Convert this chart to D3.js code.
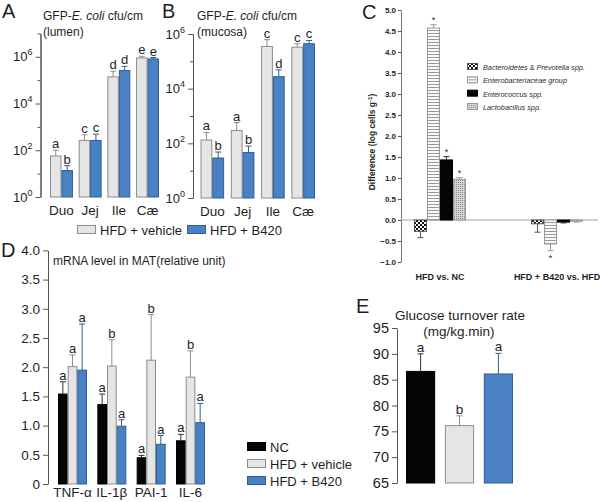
<!DOCTYPE html>
<html>
<head>
<meta charset="utf-8">
<script src="https://cdn.jsdelivr.net/npm/d3@7"></script>
<style>
  body { margin: 0; background: #fff; }
  svg { display: block; font-family: 'Liberation Sans', Arial, sans-serif; }
</style>
</head>
<body>
<svg id="chart" width="600" height="502"></svg>
<script>
'use strict'

// ---- data ----
var gutSites = ['Duo', 'Jej', 'Ile', 'Cæ']
var abGroups = ['HFD + vehicle', 'HFD + B420']

// panel A, lumen (cfu/cm), value and top of error bar
var lumenVehicle = [57, 263, 1.38e5, 8.9e5]
var lumenVehicleErr = [100, 457, 2.4e5, 1.05e6]
var lumenB420 = [13.5, 263, 2.57e5, 8.1e5]
var lumenB420Err = [22, 490, 3.9e5, 9.3e5]
var lumenVehicleLetters = ['a', 'c', 'd', 'e']
var lumenB420Letters = ['b', 'c', 'd', 'e']

// panel B, mucosa
var mucosaVehicle = [132, 295, 3.5e5, 3.3e5]
var mucosaVehicleErr = [250, 575, 6.2e5, 4.4e5]
var mucosaB420 = [29, 46, 2.75e4, 4.4e5]
var mucosaB420Err = [48, 79, 4.9e4, 5.8e5]
var mucosaVehicleLetters = ['a', 'a', 'c', 'c']
var mucosaB420Letters = ['b', 'b', 'd', 'c']

// panel C, difference (log cells/g)
var comparisons = ['HFD vs. NC', 'HFD + B420 vs. HFD']
var taxa = ['Bacteroidetes', 'Enterobacteriaceae', 'Enterococcus', 'Lactobacillus']
var diffNC = [-0.27, 4.57, 1.43, 0.97]
var diffNCErr = [-0.42, 4.65, 1.51, 1.01]
var diffB420 = [-0.09, -0.57, -0.05, -0.03]
var diffB420Err = [-0.29, -0.73, -0.07, -0.05]
var starsNC = ['', '*', '*', '*']
var starsB420 = ['', '*', '', '']

// panel D, mRNA in MAT
var genes = ['TNF-α', 'IL-1β', 'PAI-1', 'IL-6']
var dGroups = ['NC', 'HFD + vehicle', 'HFD + B420']
var mrnaNC = [1.54, 1.36, 0.45, 0.74]
var mrnaNCErr = [1.75, 1.54, 0.49, 0.85]
var mrnaVehicle = [2.01, 2.02, 2.12, 1.83]
var mrnaVehicleErr = [2.21, 2.47, 2.9, 2.28]
var mrnaB420 = [1.95, 0.99, 0.68, 1.05]
var mrnaB420Err = [2.74, 1.10, 0.83, 1.38]
var mrnaNCLetters = ['a', 'a', 'a', 'a']
var mrnaVehicleLetters = ['a', 'b', 'b', 'b']
var mrnaB420Letters = ['a', 'a', 'a', 'a']

// panel E, glucose turnover
var glucose = [86.6, 76.1, 86.1]
var glucoseErr = [90.0, 78.0, 90.1]
var glucoseLetters = ['a', 'b', 'a']

var fills = { 'NC': '#050505', 'HFD + vehicle': '#e5e5e5', 'HFD + B420': '#4a80c4' }
var strokes = { 'NC': '#000', 'HFD + vehicle': '#8c8c8c', 'HFD + B420': '#2f5e94' }
var ink = '#1e1e1e'
var axisColor = '#555'

var svg = d3.select('#chart')
svg.append('rect').attr('width', 600).attr('height', 502).attr('fill', '#fff')

function styleAxis (g, size) {
  g.select('.domain').attr('stroke', axisColor)
  g.selectAll('.tick line').attr('stroke', axisColor)
  g.selectAll('.tick text').attr('fill', ink).attr('font-size', size).attr('font-family', null)
}

function panelLabel (t, x, y) {
  svg.append('text').attr('x', x).attr('y', y).attr('font-size', 20).attr('fill', ink).text(t)
}

// one bar, its error whisker and the letter over it
function barWithErr (g, x0, w, yScale, base, v, e, fill, stroke, label, fs) {
  var yv = yScale(v)
  var yb = yScale(base)
  var errColor = stroke === '#000' ? '#333' : stroke
  g.append('rect')
    .attr('x', x0 + 0.5).attr('width', w - 1)
    .attr('y', Math.min(yv, yb)).attr('height', Math.abs(yb - yv))
    .attr('fill', fill).attr('stroke', stroke).attr('stroke-width', 1)
  var cx = x0 + w / 2
  var ye = yScale(e)
  g.append('line').attr('x1', cx).attr('x2', cx).attr('y1', yv).attr('y2', ye)
    .attr('stroke', errColor).attr('stroke-width', 1)
  g.append('line').attr('x1', cx - 3).attr('x2', cx + 3).attr('y1', ye).attr('y2', ye)
    .attr('stroke', errColor).attr('stroke-width', 1)
  if (label) {
    var down = e < base
    g.append('text').attr('x', cx).attr('y', down ? ye + fs + 1 : ye - 2)
      .attr('text-anchor', 'middle').attr('font-size', fs).attr('fill', ink).text(label)
  }
}

// ---- panels A and B ----
function cfuPanel (o) {
  var g = svg.append('g')
  var y = d3.scaleLog().domain([1, Math.pow(10, o.topExp)]).range([o.bottom, o.top])
  var x = d3.scaleBand().domain(gutSites).range(o.xRange).paddingInner(o.pad)
  var xs = d3.scaleBand().domain(abGroups).range([0, x.bandwidth()])

  var major = [0, 2, 4, 6].map(function (e) { return Math.pow(10, e) })
  var minor = d3.range(1, o.topExp + 1, 2).map(function (e) { return Math.pow(10, e) })

  var ax = g.append('g').attr('transform', 'translate(' + o.axisX + ',0)')
    .call(d3.axisLeft(y).tickValues(major).tickSize(5).tickSizeOuter(0).tickPadding(3).tickFormat(function () { return '' }))
  styleAxis(ax, 13)
  ax.selectAll('.tick text').each(function (d) {
    var t = d3.select(this)
    t.text('10')
    t.append('tspan').attr('dy', -6).attr('font-size', 9).text(Math.round(Math.log10(d)))
  })
  var mx = g.append('g').attr('transform', 'translate(' + o.axisX + ',0)')
    .call(d3.axisLeft(y).tickValues(minor).tickSize(3).tickSizeOuter(0).tickFormat(''))
  styleAxis(mx, 10)

  var series = [
    { key: abGroups[0], vals: o.vehicle, errs: o.vehicleErr, letters: o.vehicleLetters },
    { key: abGroups[1], vals: o.b420, errs: o.b420Err, letters: o.b420Letters }
  ]
  gutSites.forEach(function (site, i) {
    series.forEach(function (s) {
      barWithErr(g, x(site) + xs(s.key), xs.bandwidth(), y, 1, s.vals[i], s.errs[i],
        fills[s.key], strokes[s.key], s.letters[i], 13)
    })
    g.append('text').attr('x', x(site) + x.bandwidth() / 2).attr('y', o.bottom + 18)
      .attr('text-anchor', 'middle').attr('font-size', 13.5).attr('fill', ink).text(site)
  })

  var title = g.append('text').attr('x', o.titleX).attr('y', 20).attr('font-size', 12).attr('fill', ink)
  title.append('tspan').text('GFP-')
  title.append('tspan').attr('font-style', 'italic').text('E. coli')
  title.append('tspan').text(' cfu/cm')
  g.append('text').attr('x', o.titleX).attr('y', 36).attr('font-size', 12).attr('fill', ink).text(o.sub)
}

cfuPanel({
  topExp: 7, bottom: 197, top: 33.4, xRange: [50, 159], pad: 0.2, axisX: 40.5, titleX: 43,
  sub: '(lumen)',
  vehicle: lumenVehicle, vehicleErr: lumenVehicleErr, vehicleLetters: lumenVehicleLetters,
  b420: lumenB420, b420Err: lumenB420Err, b420Letters: lumenB420Letters
})
cfuPanel({
  topExp: 6, bottom: 198, top: 34, xRange: [200.5, 315], pad: 0.22, axisX: 193, titleX: 197,
  sub: '(mucosa)',
  vehicle: mucosaVehicle, vehicleErr: mucosaVehicleErr, vehicleLetters: mucosaVehicleLetters,
  b420: mucosaB420, b420Err: mucosaB420Err, b420Letters: mucosaB420Letters
})
panelLabel('A', 2, 18)
panelLabel('B', 162, 18)

// legend under A/B
var abLegend = svg.append('g').attr('transform', 'translate(77,225)')
var abLegendX = d3.scalePoint().domain(abGroups).range([0, 110])
abGroups.forEach(function (k) {
  var lg = abLegend.append('g').attr('transform', 'translate(' + abLegendX(k) + ',0)')
  lg.append('rect').attr('x', 0.5).attr('y', 0.5).attr('width', 18).attr('height', 8)
    .attr('fill', fills[k]).attr('stroke', strokes[k])
  lg.append('text').attr('x', 23).attr('y', 9.5).attr('font-size', 13).attr('fill', ink).text(k)
})

// ---- panel C ----
var defs = svg.append('defs')
var checker = defs.append('pattern').attr('id', 'pat-checker').attr('patternUnits', 'userSpaceOnUse')
  .attr('width', 4).attr('height', 4)
checker.append('rect').attr('width', 4).attr('height', 4).attr('fill', '#fff')
checker.append('rect').attr('width', 2).attr('height', 2).attr('fill', '#111')
checker.append('rect').attr('x', 2).attr('y', 2).attr('width', 2).attr('height', 2).attr('fill', '#111')
var stripes = defs.append('pattern').attr('id', 'pat-stripes').attr('patternUnits', 'userSpaceOnUse')
  .attr('width', 4).attr('height', 3)
stripes.append('rect').attr('width', 4).attr('height', 3).attr('fill', '#fafafa')
stripes.append('rect').attr('width', 4).attr('height', 1).attr('fill', '#9a9a9a')
var dots = defs.append('pattern').attr('id', 'pat-dots').attr('patternUnits', 'userSpaceOnUse')
  .attr('width', 2).attr('height', 2)
dots.append('rect').attr('width', 2).attr('height', 2).attr('fill', '#d6d6d6')
dots.append('rect').attr('width', 1).attr('height', 1).attr('fill', '#8a8a8a')

var taxaFill = ['url(#pat-checker)', 'url(#pat-stripes)', '#050505', 'url(#pat-dots)']
var taxaStroke = ['#555', '#999', '#000', '#999']

var cg = svg.append('g')
var yC = d3.scaleLinear().domain([-1, 5]).range([262, 10])
var xC = d3.scaleBand().domain(comparisons).range([414, 583]).paddingInner(0.556)
var xCs = d3.scaleBand().domain(taxa).range([0, xC.bandwidth()])

var cAxis = cg.append('g').attr('transform', 'translate(401,0)')
  .call(d3.axisLeft(yC).ticks(12).tickSize(3).tickSizeOuter(0).tickPadding(2).tickFormat(d3.format('.1f')))
styleAxis(cAxis, 8)
cAxis.selectAll('.tick text').attr('font-weight', 'bold')
cAxis.select('.domain').attr('stroke', '#777')

cg.append('line').attr('x1', 401).attr('x2', 598).attr('y1', yC(0)).attr('y2', yC(0))
  .attr('stroke', '#a0a0a0').attr('stroke-width', 1.2)

var cData = [
  { key: comparisons[0], vals: diffNC, errs: diffNCErr, stars: starsNC },
  { key: comparisons[1], vals: diffB420, errs: diffB420Err, stars: starsB420 }
]
cData.forEach(function (c) {
  taxa.forEach(function (t, i) {
    barWithErr(cg, xC(c.key) + xCs(t), xCs.bandwidth(), yC, 0, c.vals[i], c.errs[i],
      taxaFill[i], taxaStroke[i], c.stars[i], 9)
  })
  cg.append('text').attr('x', xC(c.key) + xC.bandwidth() / 2).attr('y', 280)
    .attr('text-anchor', 'middle').attr('font-size', 9).attr('font-weight', 'bold')
    .attr('fill', ink).text(c.key)
})

var cLabel = cg.append('text').attr('transform', 'translate(375,142) rotate(-90)')
  .attr('text-anchor', 'middle').attr('font-size', 8.5).attr('font-weight', 'bold').attr('fill', ink)
cLabel.append('tspan').text('Difference (log cells g')
cLabel.append('tspan').attr('dy', -3).attr('font-size', 6).text('-1')
cLabel.append('tspan').attr('dy', 3).text(')')

// legend C
var cLegendNames = [
  [['Bacteroidetes', true], [' & ', false], ['Prevotella', true], [' spp.', true]],
  [['Enterobacteriaceae', true], [' group', true]],
  [['Enterococcus', true], [' spp.', true]],
  [['Lactobacillus', true], [' spp.', true]]
]
var cLegendY = d3.scalePoint().domain(taxa).range([63, 103])
taxa.forEach(function (t, i) {
  var lg = cg.append('g').attr('transform', 'translate(467,' + cLegendY(t) + ')')
  lg.append('rect').attr('x', 0.5).attr('y', 0.5).attr('width', 10).attr('height', 6)
    .attr('fill', taxaFill[i]).attr('stroke', taxaStroke[i])
  var tx = lg.append('text').attr('x', 16).attr('y', 7).attr('font-size', 7.3).attr('fill', '#2a2a2a')
  cLegendNames[i].forEach(function (p) {
    tx.append('tspan').attr('font-style', p[1] ? 'italic' : null).text(p[0])
  })
})
panelLabel('C', 362, 19)

// ---- panel D ----
var dg = svg.append('g')
var yD = d3.scaleLinear().domain([0, 4]).range([484, 250.4])
var xD = d3.scaleBand().domain(genes).range([58, 205]).paddingInner(0.263)
var xDs = d3.scaleBand().domain(dGroups).range([0, xD.bandwidth()])
var dAxis = dg.append('g').attr('transform', 'translate(48,0)')
  .call(d3.axisLeft(yD).tickValues(d3.range(0, 4.01, 0.5)).tickSize(5).tickSizeOuter(0).tickPadding(3)
    .tickFormat(function (d) { return d === 0 ? '0' : d3.format('.1f')(d) }))
styleAxis(dAxis, 13.5)

var dData = [
  { key: dGroups[0], vals: mrnaNC, errs: mrnaNCErr, letters: mrnaNCLetters },
  { key: dGroups[1], vals: mrnaVehicle, errs: mrnaVehicleErr, letters: mrnaVehicleLetters },
  { key: dGroups[2], vals: mrnaB420, errs: mrnaB420Err, letters: mrnaB420Letters }
]
genes.forEach(function (gene, i) {
  dData.forEach(function (s) {
    barWithErr(dg, xD(gene) + xDs(s.key), xDs.bandwidth(), yD, 0, s.vals[i], s.errs[i],
      fills[s.key], strokes[s.key], s.letters[i], 13)
  })
  dg.append('text').attr('x', xD(gene) + xD.bandwidth() / 2).attr('y', 497)
    .attr('text-anchor', 'middle').attr('font-size', 13.5).attr('fill', ink).text(gene)
})
dg.append('text').attr('x', 53).attr('y', 265).attr('font-size', 12).attr('fill', ink)
  .text('mRNA level in MAT(relative unit)')
panelLabel('D', 1, 257)

var dLegendY = d3.scalePoint().domain(dGroups).range([442, 476])
dGroups.forEach(function (k) {
  var lg = dg.append('g').attr('transform', 'translate(247,' + dLegendY(k) + ')')
  lg.append('rect').attr('x', 0.5).attr('y', 0.5).attr('width', 18).attr('height', 8)
    .attr('fill', fills[k]).attr('stroke', strokes[k])
  lg.append('text').attr('x', 23).attr('y', 9.5).attr('font-size', 13).attr('fill', ink).text(k)
})

// ---- panel E ----
var eg = svg.append('g')
var yE = d3.scaleLinear().domain([65, 95]).range([483, 328])
var xE = d3.scaleBand().domain(dGroups).range([406, 513]).paddingInner(0.25)
var eAxis = eg.append('g').attr('transform', 'translate(397,0)')
  .call(d3.axisLeft(yE).tickValues(d3.range(65, 96, 5)).tickSize(5).tickSizeOuter(0).tickPadding(3))
styleAxis(eAxis, 14.5)
dGroups.forEach(function (k, i) {
  barWithErr(eg, xE(k), xE.bandwidth(), yE, 65, glucose[i], glucoseErr[i],
    fills[k], strokes[k], glucoseLetters[i], 13.5)
})
eg.append('text').attr('x', 460).attr('y', 320).attr('text-anchor', 'middle')
  .attr('font-size', 13.5).attr('fill', ink).text('Glucose turnover rate')
eg.append('text').attr('x', 459).attr('y', 336).attr('text-anchor', 'middle')
  .attr('font-size', 13.5).attr('fill', ink).text('(mg/kg.min)')
panelLabel('E', 356, 313)
</script>
</body>
</html>
